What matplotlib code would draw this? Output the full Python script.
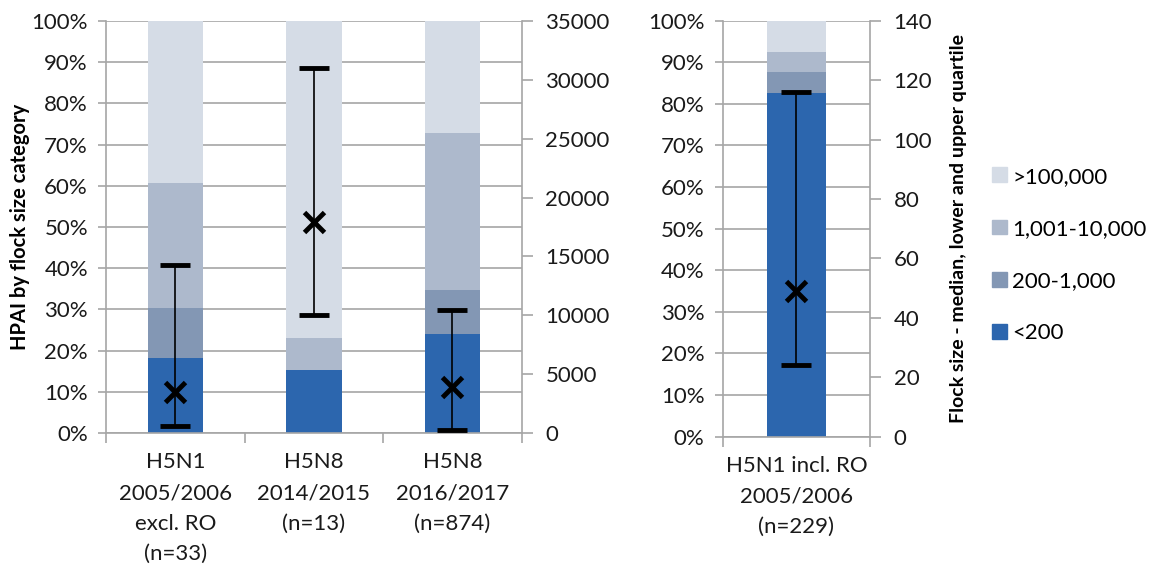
import matplotlib
matplotlib.use("Agg")
import matplotlib.pyplot as plt
from matplotlib.patches import Patch

plt.rcParams['font.family'] = ['Lato', 'DejaVu Sans']

# outbreaks per flock size category, % of outbreaks
categorias = ["H5N1\n2005/2006\nexcl. RO\n(n=33)", "H5N8\n2014/2015\n(n=13)", "H5N8\n2016/2017\n(n=874)"]
menos_200 = [18.2, 15.4, 24.0]
de_200_a_1000 = [12.1, 0.0, 10.7]
de_1001_a_10000 = [30.3, 7.7, 38.2]
mas_100000 = [39.4, 76.9, 27.1]

# flock size: lower quartile, median, upper quartile
cuartil_inf = [600, 10000, 250]
mediana = [3500, 17900, 3950]
cuartil_sup = [14300, 31000, 10450]

# panel derecho (incl. RO)
categoria_ro = ["H5N1 incl. RO\n2005/2006\n(n=229)"]
ro_menos_200 = [82.5]
ro_200_a_1000 = [5.2]
ro_1001_a_10000 = [4.8]
ro_mas_100000 = [7.5]
ro_cuartil_inf = [24]
ro_mediana = [49]
ro_cuartil_sup = [116]

etiquetas_leyenda = [">100,000", "1,001-10,000", "200-1,000", "<200"]
colores = ["#2C66AE", "#8397B4", "#ADB9CC", "#D5DCE6"]  # <200 ... >100,000
GRIS = "#A6A6A6"
FS = 16


def panel(ax, nombres, series, inf, med, sup, y2_max, y2_step):
    x = list(range(len(nombres)))
    abajo = [0] * len(nombres)
    for valores, color in zip(series, colores):
        ax.bar(x, valores, width=0.4, bottom=abajo, color=color, zorder=2)
        abajo = [a + v for a, v in zip(abajo, valores)]
    ax.set_ylim(0, 100)
    ax.set_xlim(-0.5, len(nombres) - 0.5)
    ax.set_yticks(range(0, 101, 10))
    ax.set_yticklabels(["%d%%" % v for v in range(0, 101, 10)])
    ax.yaxis.grid(True, color=GRIS, linewidth=1.2, zorder=0)
    ax.set_axisbelow(True)
    ax.set_xticks(x)
    ax.set_xticklabels(nombres, linespacing=1.66)
    ax.set_xticks([i - 0.5 for i in range(len(nombres) + 1)], minor=True)
    ax.tick_params(axis="x", which="major", length=0, pad=14, labelsize=FS, colors="#1a1a1a")
    ax.tick_params(axis="x", which="minor", length=7, width=1.2, color=GRIS)
    ax.tick_params(axis="y", length=6, width=1.2, color=GRIS, labelsize=FS, pad=7, labelcolor="#1a1a1a")
    for lado in ["top", "right"]:
        ax.spines[lado].set_visible(False)
    for lado in ["left", "bottom"]:
        ax.spines[lado].set_color(GRIS)
        ax.spines[lado].set_linewidth(1.2)

    ax2 = ax.twinx()
    ax2.set_ylim(0, y2_max)
    ax2.set_yticks(range(0, y2_max + 1, y2_step))
    err_abajo = [m - l for m, l in zip(med, inf)]
    err_arriba = [u - m for m, u in zip(med, sup)]
    ax2.errorbar(x, med, yerr=[err_abajo, err_arriba], fmt="x", color="black",
                 markersize=14, markeredgewidth=3.5, elinewidth=1.2,
                 capsize=11, capthick=6.5, zorder=5)
    ax2.tick_params(axis="y", length=8, width=1.2, color=GRIS, labelsize=FS, pad=9, labelcolor="#1a1a1a")
    for lado in ["top", "left", "bottom"]:
        ax2.spines[lado].set_visible(False)
    ax2.spines["right"].set_color(GRIS)
    ax2.spines["right"].set_linewidth(1.2)
    return ax2


fig = plt.figure(figsize=(11.5, 5.73), dpi=100)
ax_izq = fig.add_axes([0.0922, 0.2443, 0.3615, 0.719])
ax_der = fig.add_axes([0.6284, 0.2379, 0.1281, 0.726])

panel(ax_izq, categorias, [menos_200, de_200_a_1000, de_1001_a_10000, mas_100000],
      cuartil_inf, mediana, cuartil_sup, 35000, 5000)
ax2_der = panel(ax_der, categoria_ro, [ro_menos_200, ro_200_a_1000, ro_1001_a_10000, ro_mas_100000],
                ro_cuartil_inf, ro_mediana, ro_cuartil_sup, 140, 20)

ax_izq.set_ylabel("HPAI by flock size category", fontsize=14.5, fontweight="bold", labelpad=1)
ax2_der.set_ylabel("Flock size - median, lower and upper quartile", fontsize=14, fontweight="bold", labelpad=13)

manejadores = [Patch(color=c) for c in reversed(colores)]
fig.legend(manejadores, etiquetas_leyenda, loc="center left", bbox_to_anchor=(0.855, 0.555),
           frameon=False, fontsize=FS, labelspacing=1.45, handlelength=0.65, handleheight=0.65,
           handletextpad=0.25, borderaxespad=0)

fig.savefig("out.png", dpi=100)
